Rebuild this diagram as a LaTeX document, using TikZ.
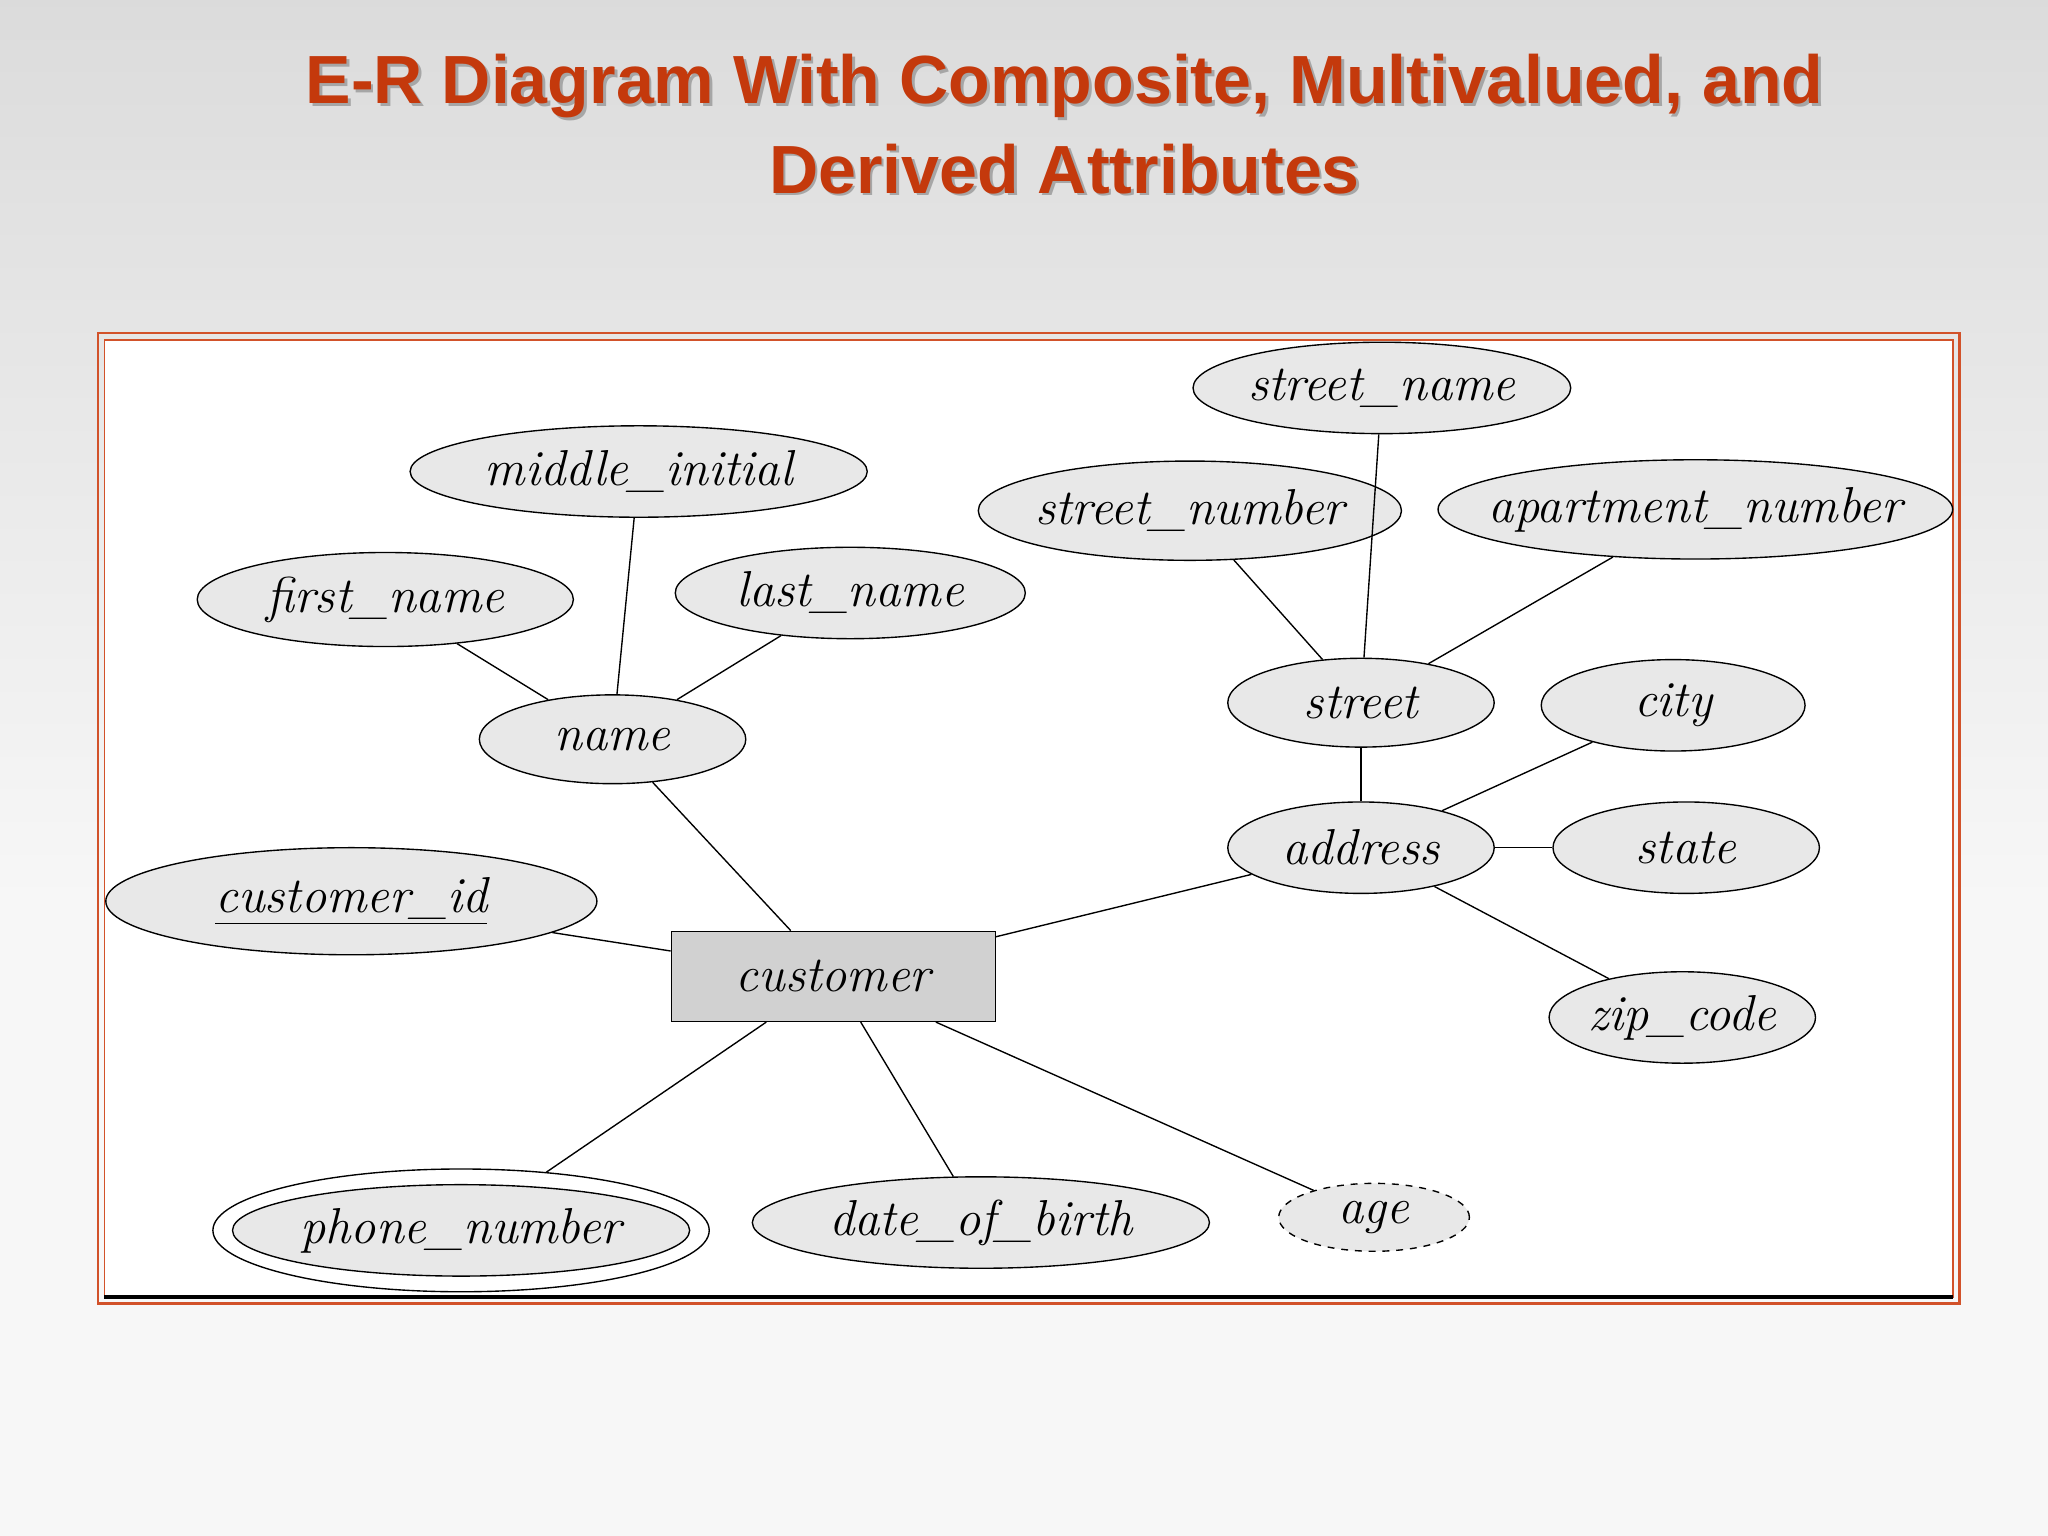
\documentclass[tikz,border=0pt]{standalone}
\usepackage{fontspec}
\newfontfamily\titlefont{Liberation Sans}
\usetikzlibrary{shapes.geometric}
\definecolor{titlered}{HTML}{C4390C}
\definecolor{framered}{HTML}{D2522A}
\definecolor{attrfill}{HTML}{E8E8E8}
\tikzset{
  attr/.style={ellipse, draw=black, line width=0.6pt, fill=attrfill, inner sep=0pt,
    font=\fontsize{22}{24}\selectfont\itshape},
  sz/.style 2 args={minimum width=#1*0.02cm, minimum height=#2*0.02cm},
  conn/.style={draw=black, line width=0.6pt},
}
\begin{document}
\begin{tikzpicture}[x=0.02cm,y=-0.02cm]
\useasboundingbox (0,0) rectangle (1568,1176);
\shade[top color=black!14, bottom color=black!3] (0,0) rectangle (1568,700);
\fill[black!3] (0,700) rectangle (1568,1176);
% title
\foreach \dx/\c in {2/black!35,0/titlered}{
 \node[font=\titlefont\bfseries\fontsize{29.7}{39}\selectfont, text=\c, align=center] (title\dx) at (815+\dx,95+\dx)
  {E-R Diagram With Composite, Multivalued, and\\Derived Attributes};}
% frame
\draw[framered, line width=1.2pt] (75,255) rectangle (1500,998);
\fill[white] (80,260) rectangle (1495,993);
\draw[framered, line width=0.8pt] (80,260) rectangle (1495,993);
\draw[black, line width=2pt] (80,993) -- (1495,993);
% nodes
\node[attr, sz={280}{70}] (sname) at (1058,297) {street\_name};
\node[attr, sz={350}{70}] (mid) at (489,361) {middle\_initial};
\node[attr, sz={324}{76}, inner xsep=-8pt] (snum) at (911,391) {street\_number};
\node[attr, sz={394}{76}, inner xsep=-36pt, inner ysep=-4pt] (apt) at (1298,390) {apartment\_number};
\node[attr, sz={288}{72}] (first) at (295,459) {first\_name};
\node[attr, sz={268}{70}] (last) at (651,454) {last\_name};
\node[attr, sz={204}{68}] (name) at (469,566) {name};
\node[attr, sz={204}{68}] (street) at (1042,538) {street};
\node[attr, sz={202}{70}] (city) at (1281,540) {city};
\node[attr, sz={204}{70}] (address) at (1042,649) {address};
\node[attr, sz={204}{70}] (state) at (1291,649) {state};
\node[attr, sz={376}{82}] (cid) at (269,690) {\underline{customer\_id}};
\node[attr, sz={204}{70}] (zip) at (1288,779) {zip\_code};
\node[draw=black, line width=0.6pt, fill=black!18, sz={248}{69},
  font=\fontsize{22}{24}\selectfont\itshape] (cust) at (638,747.5) {customer};
\node[ellipse, draw=black, line width=0.6pt, fill=white, sz={380}{94}] (phoneo) at (353,942) {};
\node[attr, sz={350}{70}] (phone) at (353,942) {phone\_number};
\node[attr, sz={350}{70}] (dob) at (751,936) {date\_of\_birth};
\node[attr, dashed, sz={146}{52}] (age) at (1052,932) {age};
% connectors
\draw[conn] (first) -- (name);
\draw[conn] (mid) -- (name);
\draw[conn] (last) -- (name);
\draw[conn] (name) -- (cust);
\draw[conn] (cid) -- (cust);
\draw[conn] (cust) -- (phoneo);
\draw[conn] (cust) -- (dob);
\draw[conn] (cust) -- (age);
\draw[conn] (cust) -- (address);
\draw[conn] (address) -- (street);
\draw[conn] (address) -- (city);
\draw[conn] (address) -- (state);
\draw[conn] (address) -- (zip);
\draw[conn] (street) -- (snum);
\draw[conn] (street) -- (sname);
\draw[conn] (street) -- (apt);
\end{tikzpicture}
\end{document}
